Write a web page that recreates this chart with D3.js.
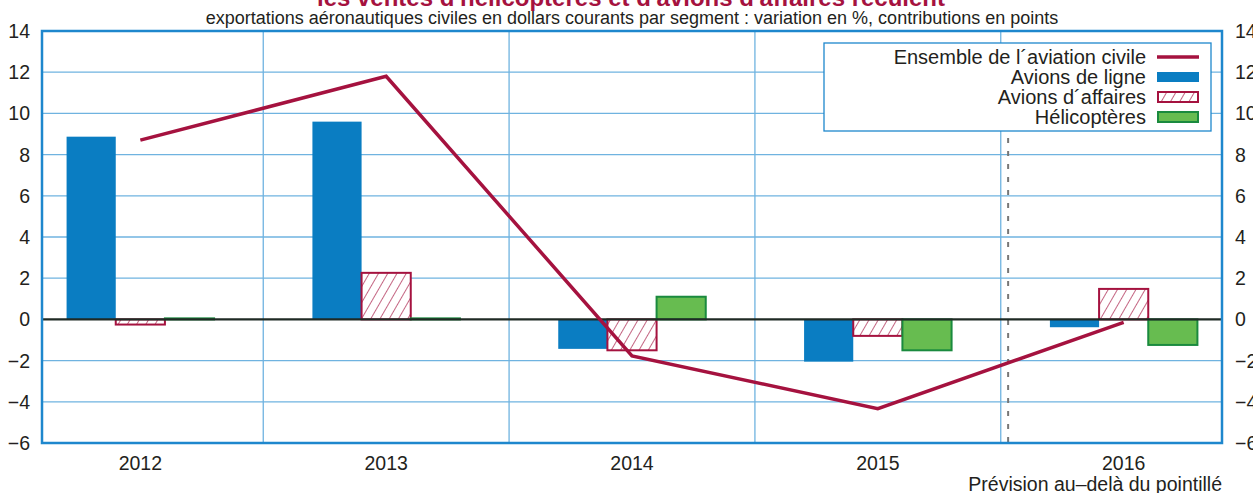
<!DOCTYPE html>
<html><head><meta charset="utf-8">
<script src="https://cdn.jsdelivr.net/npm/d3@7"></script>
<style>body{margin:0;background:#fff}svg{display:block;font-family:"Liberation Sans",Arial,sans-serif}</style>
</head><body><svg id="c" width="1253" height="493"></svg>
<script>
const years = ["2012","2013","2014","2015","2016"];
const ensemble = [8.7, 11.8, -1.77, -4.33, -0.14];
const avionsLigne = [8.87, 9.6, -1.43, -2.05, -0.38];
const avionsAffaires = [-0.25, 2.26, -1.5, -0.8, 1.48];
const helicopteres = [0.05, 0.05, 1.1, -1.5, -1.24];
const yTicks = [-6,-4,-2,0,2,4,6,8,10,12,14];
const legendLabels = ["Ensemble de l´aviation civile","Avions de ligne","Avions d´affaires","Hélicoptères"];
const title = "les ventes d'hélicoptères et d'avions d'affaires reculent";
const subtitle = "exportations aéronautiques civiles en dollars courants par segment : variation en %, contributions en points";
const forecastNote = "Prévision au–delà du pointillé";
const forecastAt = 3.53;

const crimson = "#A5123F", blue = "#0A7DC2", green = "#67BC50", greenS = "#1A8A3E", grid = "#6FB3E0", frame = "#1E87CD";
const svg = d3.select("#c");
const L = 42, R = 1222, T = 31, B = 443;
const x = d3.scaleLinear().domain([-0.4, 4.4]).range([L, R]);
const y = d3.scaleLinear().domain([-6, 14]).range([B, T]);
const bw = 0.2;

const defs = svg.append("defs");
const pat = defs.append("pattern").attr("id","hatch").attr("patternUnits","userSpaceOnUse")
  .attr("width",8).attr("height",8).attr("patternTransform","rotate(30)");
pat.append("rect").attr("width",8).attr("height",8).attr("fill","#fff");
pat.append("line").attr("x1",0).attr("y1",0).attr("x2",0).attr("y2",8).attr("stroke",crimson).attr("stroke-width",1.3);

// gridlines
svg.append("g").selectAll("line").data(yTicks.filter(d=>d!==0 && d!==-6 && d!==14)).join("line")
  .attr("x1",L).attr("x2",R).attr("y1",d=>y(d)).attr("y2",d=>y(d)).attr("stroke",grid).attr("stroke-width",1.3);
svg.append("g").selectAll("line").data(d3.range(4)).join("line")
  .attr("x1",d=>x(d+0.5)).attr("x2",d=>x(d+0.5)).attr("y1",T).attr("y2",B).attr("stroke",grid).attr("stroke-width",1.3);

// forecast dashed line
svg.append("line").attr("x1",x(forecastAt)).attr("x2",x(forecastAt)).attr("y1",138).attr("y2",B)
  .attr("stroke","#777").attr("stroke-width",2).attr("stroke-dasharray","5,8");

// bars
function bars(vals, off, fill, stroke){
  svg.append("g").selectAll("rect").data(vals).join("rect")
    .attr("x",(d,i)=>x(i+off)).attr("width",x(bw)-x(0))
    .attr("y",d=>y(Math.max(0,d))).attr("height",d=>Math.abs(y(d)-y(0)))
    .attr("fill",fill).attr("stroke",stroke||"none").attr("stroke-width",stroke?2:0);
}
bars(avionsLigne, -1.5*bw, blue);
bars(avionsAffaires, -0.5*bw, "url(#hatch)", crimson);
bars(helicopteres, 0.5*bw, green, greenS);

// zero line
svg.append("line").attr("x1",L).attr("x2",R).attr("y1",y(0)).attr("y2",y(0)).attr("stroke","#1f2a24").attr("stroke-width",2.2);

// frame
svg.append("rect").attr("x",L).attr("y",T).attr("width",R-L).attr("height",B-T).attr("fill","none").attr("stroke",frame).attr("stroke-width",2.5);

// line
svg.append("path").datum(ensemble).attr("fill","none").attr("stroke",crimson).attr("stroke-width",3.5)
  .attr("stroke-linejoin","miter")
  .attr("d",d3.line().x((d,i)=>x(i)).y(d=>y(d)));

// axes
const ax = svg.append("g").attr("font-size",19.5).attr("fill","#231f20");
ax.selectAll(".l").data(yTicks).join("text").attr("x",30).attr("y",d=>y(d)+7).attr("text-anchor","end").text(d=>d<0?"−"+Math.abs(d):d);
ax.selectAll(".r").data(yTicks).join("text").attr("x",1235).attr("y",d=>y(d)+7).attr("text-anchor","start").text(d=>d<0?"−"+Math.abs(d):d);
ax.selectAll(".x").data(years).join("text").attr("x",(d,i)=>x(i)).attr("y",470).attr("text-anchor","middle").text(d=>d);
svg.append("text").attr("x",R).attr("y",491).attr("text-anchor","end").attr("font-size",19.5).attr("fill","#231f20").text(forecastNote);

// titles
svg.append("text").attr("x",631).attr("y",6).attr("text-anchor","middle").attr("font-size",24).attr("font-weight","bold").attr("fill",crimson).text(title);
svg.append("text").attr("x",632).attr("y",24).attr("text-anchor","middle").attr("font-size",18).attr("fill","#231f20").text(subtitle);

// legend
const lg = svg.append("g");
lg.append("rect").attr("x",824).attr("y",43).attr("width",387).attr("height",88).attr("fill","#fff").attr("stroke",frame).attr("stroke-width",1.3);
const rows = [57,77,97,117];
lg.selectAll("text").data(legendLabels).join("text").attr("x",1146).attr("y",(d,i)=>rows[i]+7)
  .attr("text-anchor","end").attr("font-size",20).attr("fill","#231f20").text(d=>d);
lg.append("line").attr("x1",1157).attr("x2",1199).attr("y1",rows[0]).attr("y2",rows[0]).attr("stroke",crimson).attr("stroke-width",3.5);
lg.append("rect").attr("x",1157).attr("y",rows[1]-5).attr("width",42).attr("height",10).attr("fill",blue);
lg.append("rect").attr("x",1158).attr("y",rows[2]-5).attr("width",40).attr("height",10).attr("fill","url(#hatch)").attr("stroke",crimson).attr("stroke-width",2);
lg.append("rect").attr("x",1158).attr("y",rows[3]-5).attr("width",40).attr("height",10).attr("fill",green).attr("stroke",greenS).attr("stroke-width",2);
</script></body></html>
